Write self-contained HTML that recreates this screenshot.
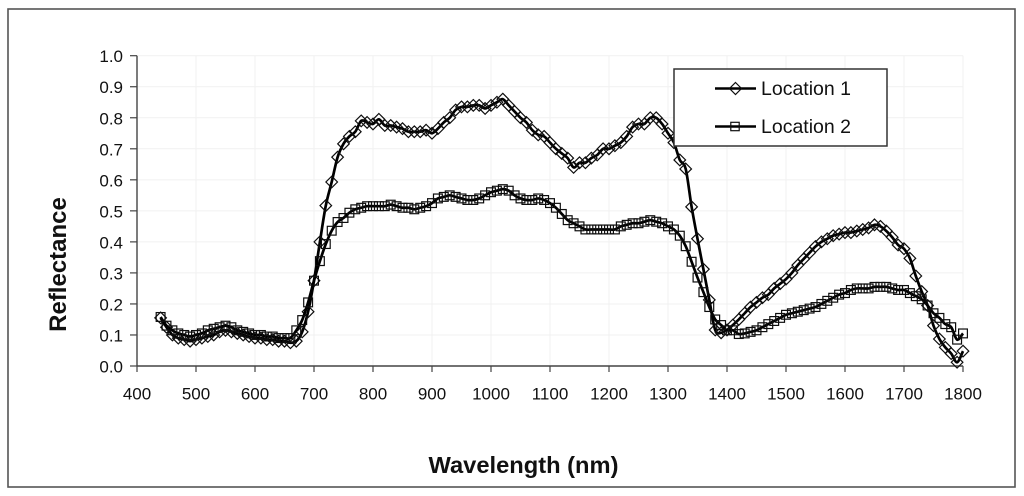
<!DOCTYPE html>
<html>
<head>
<meta charset="utf-8">
<style>
html,body{margin:0;padding:0;background:#fff;}
svg{display:block;}
text{font-family:"Liberation Sans",sans-serif;fill:#111;}
</style>
</head>
<body>
<svg id="chart" width="1024" height="496" viewBox="0 0 1024 496" xmlns="http://www.w3.org/2000/svg">
<defs><filter id="soft" x="-5%" y="-5%" width="110%" height="110%"><feGaussianBlur stdDeviation="0.3"/></filter></defs>
<rect width="1024" height="496" fill="#fff"/>
<rect x="8" y="9" width="1007" height="478" fill="none" stroke="#555" stroke-width="1.6"/>
<g id="grid"></g>
<g id="axes"></g>
<g id="series" filter="url(#soft)"></g>
<g>
<rect x="674" y="69" width="213" height="77" fill="#fff" stroke="#333" stroke-width="1.5"/>
<g id="legend-keys" filter="url(#soft)"></g>
<text x="761" y="95" font-size="19.5">Location 1</text>
<text x="761" y="133" font-size="19.5">Location 2</text>
</g>
<text x="523.500" y="473" font-size="23" font-weight="bold" text-anchor="middle" textLength="190" lengthAdjust="spacingAndGlyphs">Wavelength (nm)</text>
<text transform="translate(66,264.500) rotate(-90)" font-size="24" font-weight="bold" text-anchor="middle">Reflectance</text>
</svg>
<script>
const wavelengths = [440,450,460,470,480,490,500,510,520,530,540,550,560,570,580,590,600,610,620,630,640,650,660,670,680,690,700,710,720,730,740,750,760,770,780,790,800,810,820,830,840,850,860,870,880,890,900,910,920,930,940,950,960,970,980,990,1000,1010,1020,1030,1040,1050,1060,1070,1080,1090,1100,1110,1120,1130,1140,1150,1160,1170,1180,1190,1200,1210,1220,1230,1240,1250,1260,1270,1280,1290,1300,1310,1320,1330,1340,1350,1360,1370,1380,1390,1400,1410,1420,1430,1440,1450,1460,1470,1480,1490,1500,1510,1520,1530,1540,1550,1560,1570,1580,1590,1600,1610,1620,1630,1640,1650,1660,1670,1680,1690,1700,1710,1720,1730,1740,1750,1760,1770,1780,1790,1800];
const location1 = [.155,.125,.1,.09,.085,.08,.085,.09,.095,.1,.11,.115,.11,.105,.1,.095,.09,.09,.085,.085,.08,.08,.075,.08,.11,.175,.275,.4,.517,.593,.673,.716,.74,.755,.79,.785,.78,.795,.775,.775,.77,.765,.755,.755,.755,.76,.75,.765,.785,.8,.825,.835,.835,.84,.84,.83,.84,.85,.86,.84,.82,.8,.785,.76,.745,.74,.72,.7,.685,.67,.64,.655,.655,.67,.68,.7,.7,.71,.72,.74,.77,.78,.78,.8,.8,.78,.75,.72,.664,.635,.513,.41,.312,.213,.116,.107,.116,.132,.15,.17,.19,.205,.22,.23,.25,.265,.28,.3,.325,.345,.365,.385,.4,.41,.42,.425,.43,.43,.435,.44,.445,.455,.45,.435,.415,.39,.378,.347,.29,.24,.195,.13,.087,.06,.04,.012,.048];
const location2 = [.158,.13,.115,.105,.1,.095,.1,.105,.115,.12,.125,.13,.125,.115,.11,.105,.1,.1,.095,.095,.09,.09,.09,.115,.148,.205,.275,.338,.393,.436,.464,.477,.494,.505,.51,.515,.515,.515,.515,.52,.515,.51,.51,.505,.51,.515,.525,.54,.545,.55,.545,.54,.535,.535,.54,.55,.56,.565,.57,.565,.55,.54,.535,.535,.54,.535,.525,.51,.49,.47,.46,.45,.44,.44,.44,.44,.44,.44,.45,.455,.46,.46,.465,.47,.465,.46,.45,.44,.42,.386,.336,.285,.238,.19,.15,.132,.115,.115,.103,.105,.11,.115,.125,.135,.145,.155,.165,.17,.175,.18,.185,.19,.2,.21,.22,.23,.235,.245,.25,.25,.25,.255,.255,.255,.25,.245,.245,.235,.225,.215,.195,.17,.155,.135,.125,.085,.105];
const xTickLabels = [400,500,600,700,800,900,1000,1100,1200,1300,1400,1500,1600,1700,1800];
const yTickLabels = [0,0.1,0.2,0.3,0.4,0.5,0.6,0.7,0.8,0.9,1.0];

const NS = 'http://www.w3.org/2000/svg';
const xAxis = v => 137 + (v - 400) * 0.59;
const yAxis = v => 366 - v * 310.3;

function make(tag, attrs, parent) {
  const el = document.createElementNS(NS, tag);
  for (const k in attrs) el.setAttribute(k, attrs[k]);
  parent.appendChild(el);
  return el;
}

const grid = document.getElementById('grid');
const axes = document.getElementById('axes');
const seriesGroup = document.getElementById('series');
const legendKeys = document.getElementById('legend-keys');

xTickLabels.forEach(t => {
  const x = xAxis(t);
  if (t > 400) {
    const g = make('line', {x1:x, x2:x, y1:yAxis(1), y2:yAxis(0), stroke:'#f1f1f1', 'stroke-width':1}, grid);
    
    
  }
  const tick = make('line', {x1:x, x2:x, y1:yAxis(0), y2:yAxis(0) + 6, stroke:'#444', 'stroke-width':1.2}, axes);
  
  
  const label = make('text', {x:x, y:399.5, 'font-size':17, 'text-anchor':'middle'}, axes);
  
  
  label.textContent = t;
});

yTickLabels.forEach(t => {
  const y = yAxis(t);
  if (t > 0) {
    const g = make('line', {x1:xAxis(400), x2:xAxis(1800), y1:y, y2:y, stroke:'#f1f1f1', 'stroke-width':1}, grid);
    
    
  }
  const tick = make('line', {x1:xAxis(400) - 7, x2:xAxis(400), y1:y, y2:y, stroke:'#444', 'stroke-width':1.2}, axes);
  
  
  const label = make('text', {x:123, y:y + 6.5, 'font-size':17, 'text-anchor':'end'}, axes);
  
  
  label.textContent = t.toFixed(1);
});

const xLine = make('line', {x1:xAxis(400), x2:xAxis(1800), y1:yAxis(0), y2:yAxis(0), stroke:'#444', 'stroke-width':1.4}, axes);


const yLine = make('line', {x1:xAxis(400), x2:xAxis(400), y1:yAxis(1), y2:yAxis(0), stroke:'#444', 'stroke-width':1.4}, axes);



function smoothPath(pts) {
  let d = 'M' + pts[0][0].toFixed(2) + ' ' + pts[0][1].toFixed(2);
  for (let i = 0; i < pts.length - 1; i++) {
    const p0 = pts[Math.max(i - 1, 0)], p1 = pts[i], p2 = pts[i + 1], p3 = pts[Math.min(i + 2, pts.length - 1)];
    const c1x = p1[0] + (p2[0] - p0[0]) / 6, c1y = p1[1] + (p2[1] - p0[1]) / 6;
    const c2x = p2[0] - (p3[0] - p1[0]) / 6, c2y = p2[1] - (p3[1] - p1[1]) / 6;
    d += 'C' + [c1x, c1y, c2x, c2y, p2[0], p2[1]].map(n => n.toFixed(2)).join(' ');
  }
  return d;
}

function diamond(parent, x, y, r) {
  const m = make('polygon', {points:[x, y - r, x + r, y, x, y + r, x - r, y].join(' '), fill:'none', stroke:'#111', 'stroke-width':1.2}, parent);
  
  
}
function square(parent, x, y, r) {
  const m = make('rect', {x:x - r, y:y - r, width:2 * r, height:2 * r, fill:'none', stroke:'#111', 'stroke-width':1.2}, parent);
  
  
}

function drawSeries(values, marker, r, name) {
  const pts = values.map((v, i) => [xAxis(wavelengths[i]), yAxis(v)]);
  const line = make('path', {d:smoothPath(pts), fill:'none', stroke:'#000', 'stroke-width':2.7, 'stroke-linejoin':'round'}, seriesGroup);
  
  
  pts.forEach(p => marker(seriesGroup, p[0], p[1], r));
}
drawSeries(location1, diamond, 5.8, 'location-1-line');
drawSeries(location2, square, 4.4, 'location-2-line');

const key1 = make('line', {x1:715, x2:756, y1:88.500, y2:88.500, stroke:'#000', 'stroke-width':2.5}, legendKeys);


diamond(legendKeys, 735.5, 88.5, 6);
const key2 = make('line', {x1:715, x2:756, y1:126.500, y2:126.500, stroke:'#000', 'stroke-width':2.5}, legendKeys);


square(legendKeys, 735, 126.5, 4.2);
</script>
</body>
</html>
